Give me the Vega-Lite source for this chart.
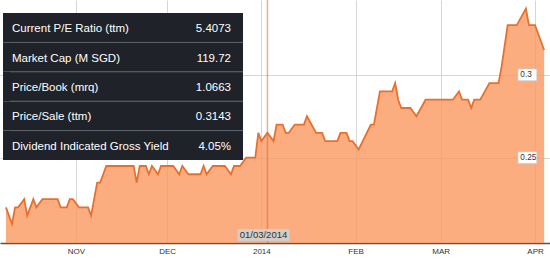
{
  "$schema": "https://vega.github.io/schema/vega-lite/v6.json",
  "width": 550,
  "height": 243,
  "autosize": {"type": "none"},
  "padding": {"left": 0, "top": 0, "right": 0, "bottom": 17},
  "background": "white",
  "config": {"view": {"stroke": null}, "font": "Liberation Sans"},
  "datasets": {
    "price": [
      {"date": "2013-10-09", "price": 0.22}, {"date": "2013-10-11", "price": 0.21}, {"date": "2013-10-12", "price": 0.22},
      {"date": "2013-10-13", "price": 0.22}, {"date": "2013-10-15", "price": 0.225}, {"date": "2013-10-16", "price": 0.215},
      {"date": "2013-10-18", "price": 0.225}, {"date": "2013-10-19", "price": 0.22}, {"date": "2013-10-21", "price": 0.225},
      {"date": "2013-10-26", "price": 0.225}, {"date": "2013-10-27", "price": 0.22}, {"date": "2013-10-29", "price": 0.22},
      {"date": "2013-10-30", "price": 0.225}, {"date": "2013-10-31", "price": 0.225}, {"date": "2013-11-02", "price": 0.22},
      {"date": "2013-11-05", "price": 0.22}, {"date": "2013-11-06", "price": 0.215}, {"date": "2013-11-08", "price": 0.235},
      {"date": "2013-11-09", "price": 0.235}, {"date": "2013-11-11", "price": 0.245}, {"date": "2013-11-20", "price": 0.245},
      {"date": "2013-11-21", "price": 0.235}, {"date": "2013-11-22", "price": 0.245}, {"date": "2013-11-24", "price": 0.245},
      {"date": "2013-11-25", "price": 0.24}, {"date": "2013-11-26", "price": 0.245}, {"date": "2013-11-28", "price": 0.24},
      {"date": "2013-11-29", "price": 0.245}, {"date": "2013-12-03", "price": 0.245}, {"date": "2013-12-05", "price": 0.24},
      {"date": "2013-12-06", "price": 0.245}, {"date": "2013-12-08", "price": 0.24}, {"date": "2013-12-12", "price": 0.24},
      {"date": "2013-12-13", "price": 0.245}, {"date": "2013-12-14", "price": 0.24}, {"date": "2013-12-16", "price": 0.245},
      {"date": "2013-12-20", "price": 0.245}, {"date": "2013-12-22", "price": 0.24}, {"date": "2013-12-23", "price": 0.245},
      {"date": "2013-12-25", "price": 0.245}, {"date": "2013-12-27", "price": 0.25}, {"date": "2013-12-30", "price": 0.25},
      {"date": "2013-12-31", "price": 0.265}, {"date": "2014-01-01", "price": 0.26}, {"date": "2014-01-03", "price": 0.265},
      {"date": "2014-01-05", "price": 0.26}, {"date": "2014-01-06", "price": 0.27}, {"date": "2014-01-08", "price": 0.27},
      {"date": "2014-01-09", "price": 0.265}, {"date": "2014-01-10", "price": 0.265}, {"date": "2014-01-12", "price": 0.27},
      {"date": "2014-01-15", "price": 0.27}, {"date": "2014-01-16", "price": 0.275}, {"date": "2014-01-19", "price": 0.265},
      {"date": "2014-01-21", "price": 0.265}, {"date": "2014-01-22", "price": 0.26}, {"date": "2014-01-26", "price": 0.26},
      {"date": "2014-01-27", "price": 0.265}, {"date": "2014-01-29", "price": 0.265}, {"date": "2014-01-30", "price": 0.26},
      {"date": "2014-01-31", "price": 0.26}, {"date": "2014-02-02", "price": 0.255}, {"date": "2014-02-06", "price": 0.27},
      {"date": "2014-02-07", "price": 0.27}, {"date": "2014-02-09", "price": 0.29}, {"date": "2014-02-13", "price": 0.29},
      {"date": "2014-02-14", "price": 0.295}, {"date": "2014-02-15", "price": 0.285}, {"date": "2014-02-16", "price": 0.28},
      {"date": "2014-02-19", "price": 0.28}, {"date": "2014-02-21", "price": 0.275}, {"date": "2014-02-24", "price": 0.285},
      {"date": "2014-03-05", "price": 0.285}, {"date": "2014-03-07", "price": 0.29}, {"date": "2014-03-08", "price": 0.285},
      {"date": "2014-03-10", "price": 0.285}, {"date": "2014-03-11", "price": 0.28}, {"date": "2014-03-12", "price": 0.285},
      {"date": "2014-03-14", "price": 0.285}, {"date": "2014-03-17", "price": 0.295}, {"date": "2014-03-20", "price": 0.295},
      {"date": "2014-03-21", "price": 0.305}, {"date": "2014-03-23", "price": 0.33}, {"date": "2014-03-26", "price": 0.33},
      {"date": "2014-03-29", "price": 0.34}, {"date": "2014-03-30", "price": 0.33}, {"date": "2014-04-01", "price": 0.33},
      {"date": "2014-04-02", "price": 0.325}, {"date": "2014-04-04", "price": 0.315}
    ],
    "cursor": [{"date": "2014-01-03", "label": "01/03/2014"}],
    "ticks": [{"tick": 0.25}, {"tick": 0.3}],
    "table": [
      {"metric": "Current P/E Ratio (ttm)", "value": "5.4073"},
      {"metric": "Market Cap (M SGD)", "value": "119.72"},
      {"metric": "Price/Book (mrq)", "value": "1.0663"},
      {"metric": "Price/Sale (ttm)", "value": "0.3143"},
      {"metric": "Dividend Indicated Gross Yield", "value": "4.05%"}
    ]
  },
  "layer": [
    {
      "layer": [
        {
          "data": {"name": "price"},
          "mark": {"type": "area", "color": "#FA9860", "opacity": 0.8},
          "encoding": {
            "x": {
              "field": "date", "type": "temporal",
              "scale": {"type": "utc", "domain": [
                {"year": 2013, "month": 10, "date": 8, "hours": 16, "minutes": 30, "utc": true},
                {"year": 2014, "month": 4, "date": 4, "hours": 6, "minutes": 45, "utc": true}
              ]},
              "axis": {
                "title": null,
                "values": ["2013-11-01", "2013-12-01", "2014-01-01", "2014-02-01", "2014-03-01", "2014-04-01"],
                "labelExpr": "utcmonth(datum.value) == 0 ? utcFormat(datum.value, '%Y') : upper(utcFormat(datum.value, '%b'))",
                "grid": true, "gridColor": "#d6d6d6", "gridWidth": 1,
                "ticks": false, "domainColor": "#5e5048", "domainWidth": 1.5,
                "labelFontSize": 8, "labelColor": "#333333", "labelPadding": 4,
                "labelFlush": false, "labelOverlap": false, "labelFont": "Liberation Sans"
              }
            },
            "y": {
              "field": "price", "type": "quantitative",
              "scale": {"domain": [0.1985, 0.3452], "zero": false, "nice": false},
              "axis": {"title": null, "orient": "right", "values": [0.25, 0.3], "grid": true, "gridColor": "#d6d6d6", "labels": false, "ticks": false, "domain": false}
            },
            "y2": {"datum": 0.1985}
          }
        },
        {
          "data": {"name": "price"},
          "mark": {"type": "line", "color": "#E8702E", "strokeWidth": 1.8},
          "encoding": {
            "x": {"field": "date", "type": "temporal"},
            "y": {"field": "price", "type": "quantitative"}
          }
        },
        {
          "data": {"name": "cursor"},
          "mark": {"type": "rule", "color": "#D9693A", "opacity": 0.55, "strokeWidth": 1.5},
          "encoding": {"x": {"field": "date", "type": "temporal"}}
        },
        {
          "data": {"name": "cursor"},
          "mark": {"type": "bar", "color": "#cfcfcf", "opacity": 0.9, "width": 52, "xOffset": -4},
          "encoding": {
            "x": {"field": "date", "type": "temporal"},
            "y": {"datum": 0.20695, "type": "quantitative"},
            "y2": {"datum": 0.1997}
          }
        },
        {
          "data": {"name": "cursor"},
          "mark": {"type": "text", "fontSize": 9.5, "color": "#333333", "baseline": "middle", "dx": -4},
          "encoding": {
            "x": {"field": "date", "type": "temporal"},
            "y": {"datum": 0.2033, "type": "quantitative"},
            "text": {"field": "label"}
          }
        },
        {
          "data": {"name": "ticks"},
          "mark": {"type": "point", "shape": "M-1,-0.63L1,-0.63L1,0.63L-1,0.63Z", "size": 361, "filled": true, "color": "white", "stroke": "#c4c4c4", "strokeWidth": 0.8, "opacity": 1},
          "encoding": {
            "x": {"datum": {"year": 2014, "month": 3, "date": 29, "hours": 12, "utc": true}, "type": "temporal"},
            "y": {"field": "tick", "type": "quantitative"}
          }
        },
        {
          "data": {"name": "ticks"},
          "mark": {"type": "text", "fontSize": 8.2, "color": "#333333", "align": "left", "baseline": "middle", "dy": 0.5},
          "encoding": {
            "x": {"datum": {"year": 2014, "month": 3, "date": 27, "hours": 4, "utc": true}, "type": "temporal"},
            "y": {"field": "tick", "type": "quantitative"},
            "text": {"field": "tick", "type": "quantitative", "format": "~g"}
          }
        }
      ]
    },
    {
      "data": {"name": "table"},
      "layer": [
        {
          "mark": {"type": "rect", "color": "#1f2329"},
          "encoding": {
            "y": {"field": "metric", "type": "nominal", "sort": null, "axis": null,
              "scale": {"domain": ["Current P/E Ratio (ttm)", "Market Cap (M SGD)", "Price/Book (mrq)", "Price/Sale (ttm)", "Dividend Indicated Gross Yield"], "range": [13, 160], "paddingInner": 0, "paddingOuter": 0}},
            "x": {"datum": 0, "type": "quantitative", "axis": null, "scale": {"domain": [0, 1], "range": [3, 243]}},
            "x2": {"datum": 1}
          }
        },
        {
          "transform": [{"filter": "datum.metric !== 'Current P/E Ratio (ttm)'"}],
          "mark": {"type": "rule", "color": "#5a6068", "strokeWidth": 1},
          "encoding": {
            "y": {"field": "metric", "type": "nominal", "bandPosition": 0},
            "x": {"datum": 0.03, "type": "quantitative"},
            "x2": {"datum": 1}
          }
        },
        {
          "mark": {"type": "text", "color": "white", "fontSize": 11.5, "align": "left", "baseline": "middle", "dy": 1.5},
          "encoding": {
            "y": {"field": "metric", "type": "nominal"},
            "x": {"datum": 0.0375, "type": "quantitative"},
            "text": {"field": "metric"}
          }
        },
        {
          "mark": {"type": "text", "color": "white", "fontSize": 11.5, "align": "right", "baseline": "middle", "dy": 1.5},
          "encoding": {
            "y": {"field": "metric", "type": "nominal"},
            "x": {"datum": 0.95, "type": "quantitative"},
            "text": {"field": "value"}
          }
        }
      ]
    }
  ],
  "resolve": {"scale": {"x": "independent", "y": "independent"}}
}
